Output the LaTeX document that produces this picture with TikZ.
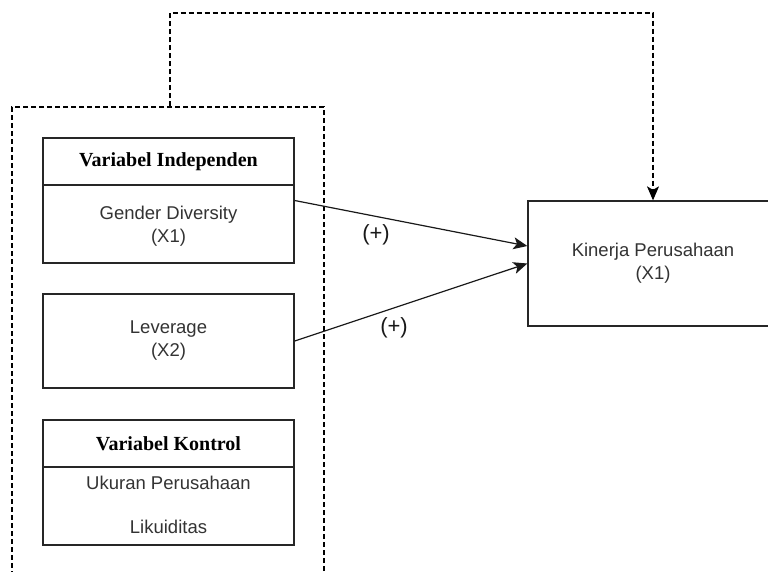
\documentclass[tikz,border=0pt]{standalone}
\usepackage{fontspec}
\setmainfont{Liberation Sans}
\newfontfamily\hdrfont{Liberation Serif}
\usetikzlibrary{arrows.meta,calc}
\begin{document}
\begin{tikzpicture}[x=1pt,y=-1pt,
 box/.style={draw=black!85, line width=1.3pt, rectangle, inner sep=0pt, anchor=center},
 dashline/.style={draw=black, line width=1.2pt, dash pattern=on 5pt off 3pt},
 arr/.style={draw=black!90, line width=1.2pt, -{Stealth[length=14pt,width=12pt,inset=3.5pt]}},
 lbl/.style={font=\fontsize{18.5}{23}\selectfont, text=black!80, align=center},
 sign/.style={font=\fontsize{22}{24}\selectfont, text=black!90, inner sep=0pt},
 hdr/.style={font=\hdrfont\bfseries\fontsize{20}{24}\selectfont, text=black},
]
\useasboundingbox[fill=white] (0,0) rectangle (768,571);
% outer dashed container (runs past the bottom edge)
\node[box, dashline, minimum width=312pt, minimum height=520pt] (outer) at (168,367) {};
% Variabel Independen
\node[box, minimum width=251pt, minimum height=125pt] (ind) at (168.5,200.5) {};
\coordinate (d1) at (168.5,185);
\draw[black!85, line width=1.3pt] (ind.west |- d1) -- (ind.east |- d1);
\node[hdr] (indh) at (168.5,162) {Variabel Independen};
\node[lbl] (gd) at (168.5,226) {Gender Diversity\\(X1)};
% Leverage
\node[box, lbl, minimum width=251pt, minimum height=94pt] (lev) at (168.5,341) {Leverage\\(X2)};
% Variabel Kontrol
\node[box, minimum width=251pt, minimum height=125pt] (kon) at (168.5,482.5) {};
\coordinate (d2) at (168.5,467);
\draw[black!85, line width=1.3pt] (kon.west |- d2) -- (kon.east |- d2);
\node[hdr] (konh) at (168.5,444) {Variabel Kontrol};
\node[lbl] (uk) at (168.5,483) {Ukuran Perusahaan};
\node[lbl] (lk) at (168.5,527) {Likuiditas};
% Kinerja Perusahaan
\node[box, lbl, minimum width=250pt, minimum height=125pt] (kin) at (653,263.5) {Kinerja Perusahaan\\(X1)};
% connectors
\draw[arr] (ind.east) -- ([yshift=17.5pt]kin.west);
\draw[arr] (lev.east) -- (kin.west);
\node[sign] (p1) at (376,235) {(+)};
\node[sign] (p2) at (394,328) {(+)};
% dashed feedback
\coordinate (t1) at (170,13);
\coordinate (t2) at (653,13);
\draw[dashline, -{Stealth[length=14pt,width=12pt,inset=3.5pt]}] (outer.north -| t1) -- (t1) -- (t2) -- (kin.north);
\end{tikzpicture}
\end{document}
